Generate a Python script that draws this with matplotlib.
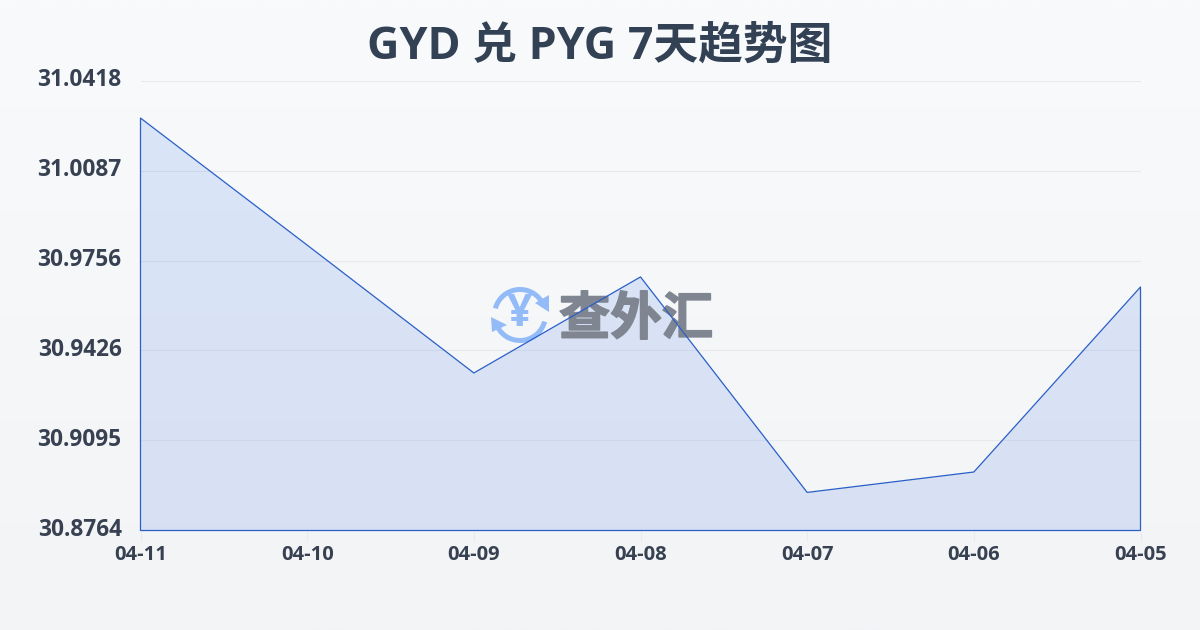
import matplotlib
matplotlib.use("Agg")
import matplotlib.pyplot as plt
import matplotlib.patheffects as pe
from matplotlib.patches import Polygon, Wedge
from matplotlib.transforms import ScaledTranslation
import numpy as np

plt.rcParams['font.family'] = ['Open Sans', 'Noto Sans CJK SC', 'DejaVu Sans']

dates = ['04-11', '04-10', '04-09', '04-08', '04-07', '04-06', '04-05']
rates = [31.0280, 30.9813, 30.9343, 30.9696, 30.8904, 30.8979, 30.9659]
y_ticks = [30.8764, 30.9095, 30.9426, 30.9756, 31.0087, 31.0418]

TEXT = '#374151'
LINE = '#2b5fc8'
LOGO = '#93bbf8'
MARK = '#7f8591'

fig = plt.figure(figsize=(12, 6.3), dpi=100)

# page background, light vertical gradient
bg = fig.add_axes([0, 0, 1, 1], zorder=0)
grad = np.linspace(0, 1, 256).reshape(-1, 1, 1)
top = np.array([0xf8, 0xfa, 0xfc]) / 255
bottom = np.array([0xf2, 0xf4, 0xf6]) / 255
bg.imshow(top + (bottom - top) * grad, aspect='auto', extent=(0, 1200, 630, 0))
bg.set_xlim(0, 1200)
bg.set_ylim(630, 0)
bg.axis('off')

ax = fig.add_axes([140.5 / 1200, 1 - 530.5 / 630, 1000 / 1200, 450 / 630], zorder=1)
ax.patch.set_alpha(0)
x = np.arange(len(dates))
ax.fill_between(x, rates, y_ticks[0], facecolor=(0.18, 0.42, 0.87, 0.14),
                edgecolor='none', zorder=3)
ax.fill_between(x, rates, y_ticks[0], facecolor='none',
                edgecolor=LINE, linewidth=0.9, clip_on=False, zorder=5)

# watermark goes between the area and its outline, pixel coords
px = bg.transData
for t1, t2 in [(195, 335), (15, 160)]:
    ax.add_patch(Wedge((520, 315), 28, t1, t2, width=5, color=LOGO, lw=0,
                       transform=px, zorder=4))
ax.add_patch(Polygon([(535, 303), (549, 295), (549, 312)], color=LOGO, lw=0,
                     transform=px, zorder=4))
ax.add_patch(Polygon([(491, 317), (507, 325), (492, 332)], color=LOGO, lw=0,
                     transform=px, zorder=4))
ax.text(520, 315, '¥', fontsize=32, fontweight='bold', color=LOGO,
        ha='center', va='center', transform=px, zorder=4)
ax.text(636, 321.5, '查外汇', fontsize=37, fontweight='bold', color=MARK,
        ha='center', va='center', transform=px, zorder=4,
        path_effects=[pe.withStroke(linewidth=1.2, foreground=MARK)])

ax.set_xlim(0, len(dates) - 1)
ax.set_ylim(y_ticks[0], y_ticks[-1])
ax.set_xticks(x)
ax.set_xticklabels(dates, fontsize=14.5, fontweight='bold', color=TEXT)
ax.set_yticks(y_ticks)
ax.set_yticklabels(['%.4f' % v for v in y_ticks], fontsize=16.3, fontweight='bold',
                   color=TEXT, va='center')
ax.tick_params(axis='x', length=7, width=0.8, color='#e8ebf0', pad=3.5)
ax.tick_params(axis='y', length=0, pad=13.5)
# labels sit a little above their gridlines
shift = ScaledTranslation(0, 0.5 / 72, fig.dpi_scale_trans)
for lab in ax.get_yticklabels():
    lab.set_transform(lab.get_transform() + shift)
ax.grid(axis='y', color='#e6e9ee', linewidth=0.8)
ax.set_axisbelow(True)
for s in ax.spines.values():
    s.set_visible(False)

fig.text(0.5, 1 - 47 / 630, 'GYD 兑 PYG 7天趋势图', fontsize=32.2, fontweight='bold',
         color='#334155', ha='center', va='center')

fig.savefig('out.png', dpi=100)
